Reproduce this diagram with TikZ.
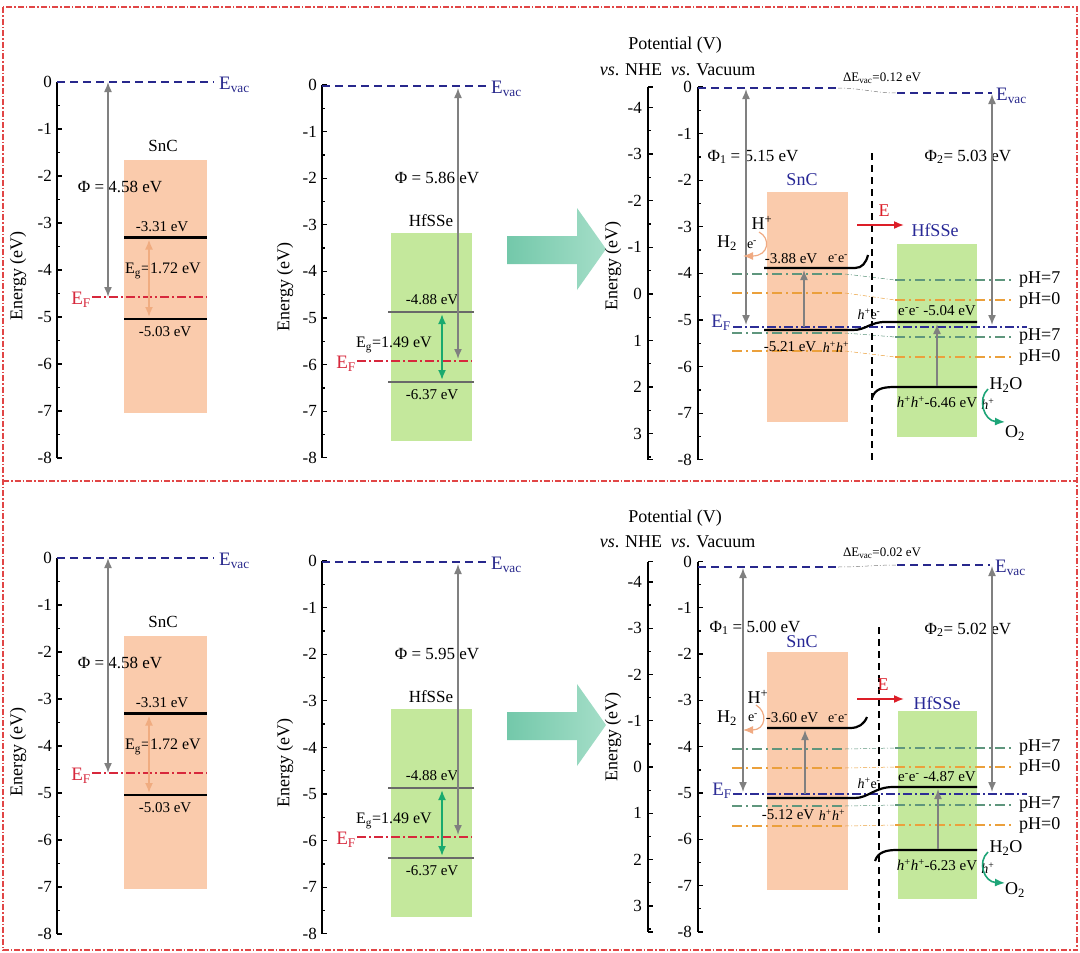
\documentclass[tikz,border=0pt]{standalone}
\usepackage{fontspec}
\setmainfont{Liberation Serif}
\usetikzlibrary{arrows.meta}
\definecolor{sncfill}{RGB}{250,203,172}
\definecolor{hffill}{RGB}{196,232,156}
\definecolor{vacblue}{RGB}{40,40,140}
\definecolor{efred}{RGB}{215,40,60}
\definecolor{arrgray}{RGB}{128,128,128}
\definecolor{eggreen}{RGB}{25,170,110}
\definecolor{egpeach}{RGB}{240,172,128}
\definecolor{phseven}{RGB}{95,150,125}
\definecolor{phzero}{RGB}{235,160,60}
\definecolor{efblue}{RGB}{45,45,150}
\definecolor{framered}{RGB}{225,70,70}
\definecolor{bigarrA}{RGB}{115,200,170}
\definecolor{bigarrB}{RGB}{165,222,200}
\definecolor{lvlgray}{RGB}{105,105,105}
\definecolor{mtblue}{RGB}{40,40,150}
\definecolor{ered}{RGB}{220,30,40}
\definecolor{harccol}{RGB}{240,170,130}
\definecolor{o2green}{RGB}{30,165,120}
\newcommand{\fsz}[1]{\fontsize{#1}{#1}\selectfont}
\newcommand{\mysub}[1]{\textsubscript{#1}}
\newcommand{\mysup}[1]{\textsuperscript{#1}}
\newcommand{\hp}{\textit{h}\textsuperscript{+}}

\newcommand{\leftpanels}[1]{%
  % ===== SnC isolated
  \fill[sncfill] (124,160) rectangle (207,413);
  \draw[axisln] (57,82) -- (57,458);
  \foreach \v in {0,...,8} {\draw[axisln] (57,{82+47*\v}) -- ++(5,0);}
  \foreach \v in {0.5,1.5,...,7.5} {\draw[axisln] (57,{82+47*\v}) -- ++(3,0);}
  \node[tl] (a0) at (52,82) {0};
  \foreach \v in {1,...,8} {\node[tl] (a\v) at (52,{82+47*\v}) {-\v};}
  \node[ylab] (ya) at (18,276) {Energy (eV)};
  \node[mat] (snc) at (163,146) {SnC};
  \coordinate (sevl) at (57,82); \coordinate (sevr) at (214,82);
  \draw[evac] (sevl) -- (sevr);
  \node[evlab,anchor=west] (sev) at (219,85) {E\mysub{vac}};
  \coordinate (sefl) at (92,297); \coordinate (sefr) at (207,297);
  \draw[efr] (sefl) -- (sefr);
  \node[eflab,anchor=east] (sef) at (91,300) {E\mysub{F}};
  \draw[level] (124,237.5) -- (207,237.5);
  \draw[level] (124,319) -- (207,319);
  \node[lv] (scbt) at (162,227) {-3.31 eV};
  \node[lv] (svbt) at (165,332) {-5.03 eV};
  \node[phil] (sphi) at (120,187) {Φ = 4.58 eV};
  \node[egl] (seg) at (163,271) {E\mysub{g}=1.72 eV};
  \coordinate (sphit) at (108,82); \coordinate (sphib) at (108,297);
  \draw[dblarr] (sphit) -- (sphib);
  \coordinate (segt) at (149,239.5); \coordinate (segb) at (149,317);
  \draw[egarr,draw=egpeach] (segt) -- (segb);
  % ===== HfSSe isolated
  \fill[hffill] (391,233) rectangle (472,441);
  \draw[axisln] (322,85) -- (322,458);
  \foreach \v in {0,...,8} {\draw[axisln] (322,{85+46.6*\v}) -- ++(5,0);}
  \foreach \v in {0.5,1.5,...,7.5} {\draw[axisln] (322,{85+46.6*\v}) -- ++(3,0);}
  \node[tl] (b0) at (317,85) {0};
  \foreach \v in {1,...,8} {\node[tl] (b\v) at (317,{85+46.6*\v}) {-\v};}
  \node[ylab] (yb) at (285,287) {Energy (eV)};
  \node[mat] (hf) at (431,221) {HfSSe};
  \coordinate (hevl) at (322,86); \coordinate (hevr) at (487,86);
  \draw[evac] (hevl) -- (hevr);
  \node[evlab,anchor=west] (hev) at (491,89) {E\mysub{vac}};
  \draw[glevel] (388,312) -- (474,312);
  \draw[glevel] (388,382) -- (474,382);
  \node[lv] (hcbt) at (432,300) {-4.88 eV};
  \node[lv] (hvbt) at (432,395) {-6.37 eV};
  \coordinate (hefl) at (357,361); \coordinate (hefr) at (472,361);
  \draw[efr] (hefl) -- (hefr);
  \node[eflab,anchor=east] (hef) at (356,364) {E\mysub{F}};
  \node[phil] (hphi) at (437,178) {Φ = #1 eV};
  \node[egl] (heg) at (394,345) {E\mysub{g}=1.49 eV};
  \coordinate (hphit) at (458,88); \coordinate (hphib) at (458,359);
  \draw[dblarr] (hphit) -- (hphib);
  \coordinate (hegt) at (442,314); \coordinate (hegb) at (442,380);
  \draw[egarr,draw=eggreen] (hegt) -- (hegb);
  % ===== big arrow
  \shade[left color=bigarrA, right color=bigarrB] (507,236) -- (577,236) -- (577,208) -- (606,249) -- (577,290) -- (577,264) -- (507,264) -- cycle;
}

\newcommand{\rightaxes}[2]{% #1 = y of vacuum 0, #2 = px per eV
  \draw[axisln] (648,#1) -- (648,{#1+8*#2});
  \draw[axisln] (648,#1) -- ++(5,0);
  \draw[axisln] (648,{#1+8*#2}) -- ++(5,0);
  \foreach \v in {-4,...,3} {\draw[axisln] (648,{#1+#2*(4.44+\v)}) -- ++(5,0);}
  \foreach \v in {-3.5,-2.5,...,3.5} {\draw[axisln] (648,{#1+#2*(4.44+\v)}) -- ++(3,0);}
  \foreach \v in {-4,...,3} {\node[tl] (n\v) at (642,{#1+#2*(4.44+\v)}) {\v};}
  \draw[axisln] (698,#1) -- (698,{#1+8*#2});
  \foreach \v in {0,...,8} {\draw[axisln] (698,{#1+#2*\v}) -- ++(5,0);}
  \foreach \v in {0.5,1.5,...,7.5} {\draw[axisln] (698,{#1+#2*\v}) -- ++(3,0);}
  \node[tl] (v0) at (692,#1) {0};
  \foreach \v in {1,...,8} {\node[tl] (v\v) at (692,{#1+#2*\v}) {-\v};}
}

\begin{document}
\begin{tikzpicture}[x=1pt,y=-1pt,
  >={Latex[length=10pt,width=8pt]},
  axisln/.style={line width=1.3pt},
  tl/.style={font=\fsz{17}, anchor=east, inner sep=0pt},
  ylab/.style={font=\fsz{18}, rotate=90, inner sep=0pt},
  mat/.style={font=\fsz{17}, inner sep=0pt},
  matb/.style={font=\fsz{18}, inner sep=0pt, text=mtblue},
  lv/.style={font=\fsz{15}, inner sep=0pt},
  egl/.style={font=\fsz{16}, inner sep=0pt},
  sm/.style={font=\fsz{14}, inner sep=0pt},
  tiny/.style={font=\fsz{13}, inner sep=0pt},
  phil/.style={font=\fsz{17}, inner sep=0pt},
  hdr/.style={font=\fsz{18}, inner sep=0pt},
  chem/.style={font=\fsz{18}, inner sep=0pt},
  evlab/.style={font=\fsz{19}, inner sep=0pt, text=vacblue},
  eflab/.style={font=\fsz{19}, inner sep=0pt, text=efred},
  efblab/.style={font=\fsz{19}, inner sep=0pt, text=efblue},
  phlab/.style={font=\fsz{18}, inner sep=0pt, anchor=west},
  evac/.style={draw=vacblue, line width=1.5pt, dash pattern=on 8pt off 5pt},
  efr/.style={draw=efred, line width=1.5pt, dash pattern=on 9pt off 3pt on 2pt off 3pt},
  efb/.style={draw=efblue, line width=1.8pt, dash pattern=on 9pt off 3pt on 2pt off 3pt},
  ph7/.style={draw=phseven, line width=1.3pt, dash pattern=on 10pt off 4pt on 2pt off 4pt},
  ph0/.style={draw=phzero, line width=1.3pt, dash pattern=on 10pt off 4pt on 2pt off 4pt},
  thinc/.style={line width=0.5pt, dash pattern=on 4pt off 2pt on 1pt off 2pt},
  level/.style={draw=black, line width=2.2pt},
  glevel/.style={draw=lvlgray, line width=2pt},
  dblarr/.style={draw=arrgray, line width=1.5pt, <->},
  uparr/.style={draw=arrgray, line width=1.5pt, ->},
  egarr/.style={line width=1.8pt, <->},
  earr/.style={draw=ered, line width=1.6pt, ->},
  iface/.style={line width=1.3pt, dash pattern=on 7pt off 5pt},
  harc/.style={draw=harccol, line width=1.2pt, ->},
  garc/.style={draw=o2green, line width=1.6pt, ->},
  frame/.style={draw=framered, line width=1.1pt, dash pattern=on 6pt off 2pt on 1.5pt off 2pt}
]
\useasboundingbox (0,0) rectangle (1080,953);
\fill[white] (0,0) rectangle (1080,953);
\draw[frame] (3,7) rectangle (1077,950);
\draw[frame] (3,481) -- (1077,481);

\begin{scope}[name prefix=tl-]
  \leftpanels{5.86}
\end{scope}
\begin{scope}[name prefix=bl-, shift={(0,476)}]
  \leftpanels{5.95}
\end{scope}

% ================= right top =================
\begin{scope}[name prefix=rt-]
  \fill[sncfill] (767,192) rectangle (848,422);
  \fill[hffill] (897,244) rectangle (977,437);
  \rightaxes{87}{46.6}
  \node[hdr] (pot) at (675,45) {Potential (V)};
  \node[hdr] (vsn) at (631,70) {\textit{vs}. NHE};
  \node[hdr] (vsv) at (713,70) {\textit{vs}. Vacuum};
  \node[ylab] (ylab) at (613,266) {Energy (eV)};
  % pH lines
  \draw[ph7] (732,274) -- (845,274); \draw[ph7,thinc] (845,274) -- (895,280); \draw[ph7] (895,280) -- (1013,280);
  \draw[ph0] (732,293) -- (845,293); \draw[ph0,thinc] (845,293) -- (895,300); \draw[ph0] (895,300) -- (1013,300);
  \draw[ph7] (732,333) -- (845,333); \draw[ph7,thinc] (845,333) -- (895,337); \draw[ph7] (895,337) -- (1013,337);
  \draw[ph0] (732,351) -- (845,351); \draw[ph0,thinc] (845,351) -- (895,357); \draw[ph0] (895,357) -- (1013,357);
  \node[phlab] (p7a) at (1019,280) {pH=7};
  \node[phlab] (p0a) at (1019,300) {pH=0};
  \node[phlab] (p7b) at (1019,337) {pH=7};
  \node[phlab] (p0b) at (1019,357) {pH=0};
  % vacuum levels
  \draw[evac] (698,88) -- (838,88);
  \draw[draw=arrgray,thinc] (838,88) .. controls (860,88) and (875,93) .. (897,93);
  \draw[evac] (897,93) -- (992,93);
  \node[evlab,anchor=west] (evr) at (996,96) {E\mysub{vac}};
  \node[tiny] (dev) at (882,78) {ΔE\mysub{vac}=0.12 eV};
  % interface and field
  \draw[iface] (872,153) -- (872,462);
  \node[font=\fsz{18}, text=ered, inner sep=0pt] (elab) at (884,211) {E};
  \coordinate (ea) at (857,225); \coordinate (eb) at (904,225);
  \draw[earr] (ea) -- (eb);
  \node[matb] (snc) at (802,180) {SnC};
  \node[matb] (hf) at (935,230) {HfSSe};
  % Fermi level
  \draw[efb] (733,327) -- (1027,327);
  \node[efblab] (ef) at (721,323) {E\mysub{F}};
  % bands
  \draw[level] (764,268) -- (855,268) .. controls (862,268) and (866,263) .. (868,255);
  \draw[level] (764,330) -- (853,330) .. controls (866,330) and (870,322) .. (885,322) -- (977,322);
  \draw[level] (872,398) .. controls (875,389) and (882,387) .. (895,387) -- (977,387);
  \node[lv] (cb1) at (791,259) {-3.88 eV};
  \node[sm] (ee1) at (838,259) {e\mysup{-}e\mysup{-}};
  \node[lv] (vb1) at (790,347) {-5.21 eV};
  \node[sm] (hh1) at (836,347) {\hp\hp};
  \node[sm] (he) at (869,314) {\hp e\mysup{-}};
  \node[lv] (cb2) at (937,311) {e\mysup{-}e\mysup{-} -5.04 eV};
  \node[lv] (vb2) at (937,402) {\hp\hp-6.46 eV};
  % work functions
  \node[phil] (phi1) at (753,157) {Φ\mysub{1} = 5.15 eV};
  \node[phil] (phi2) at (968,157) {Φ\mysub{2}= 5.03 eV};
  \coordinate (p1t) at (746,89); \coordinate (p1b) at (746,325);
  \draw[dblarr] (p1t) -- (p1b);
  \coordinate (p2t) at (992,94); \coordinate (p2b) at (992,325);
  \draw[dblarr] (p2t) -- (p2b);
  \coordinate (x1b) at (804,327); \coordinate (x1t) at (804,270);
  \draw[uparr] (x1b) -- (x1t);
  \coordinate (x2b) at (937,386); \coordinate (x2t) at (937,324);
  \draw[uparr] (x2b) -- (x2t);
  % reactions
  \node[chem] (hplus) at (762,223) {H\mysup{+}};
  \node[chem] (h2) at (727,243) {H\mysub{2}};
  \node[sm] (elec) at (752,245) {e\mysup{-}};
  \coordinate (hs) at (759,232); \coordinate (hend) at (743,256);
  \draw[harc] (hs) .. controls (771,238) and (769,256) .. (hend);
  \node[chem] (h2o) at (1006,385) {H\mysub{2}O};
  \node[sm] (hq) at (988,404) {\hp};
  \node[chem] (o2) at (1015,433) {O\mysub{2}};
  \coordinate (gs) at (988,389); \coordinate (gend) at (1005,422);
  \draw[garc] (gs) .. controls (977,399) and (984,421) .. (gend);
\end{scope}

% ================= right bottom =================
\begin{scope}[name prefix=rb-]
  \fill[sncfill] (767,652) rectangle (848,890);
  \fill[hffill] (898,711) rectangle (977,899);
  \rightaxes{561.5}{46.3}
  \node[hdr] (pot) at (675,518) {Potential (V)};
  \node[hdr] (vsn) at (631,542) {\textit{vs}. NHE};
  \node[hdr] (vsv) at (713,542) {\textit{vs}. Vacuum};
  \node[ylab] (ylab) at (613,737) {Energy (eV)};
  % pH lines
  \draw[ph7] (732,749) -- (845,749); \draw[ph7,thinc] (845,749) -- (895,748); \draw[ph7] (895,748) -- (1013,748);
  \draw[ph0] (732,768) -- (845,768); \draw[ph0,thinc] (845,768) -- (895,767); \draw[ph0] (895,767) -- (1013,767);
  \draw[ph7] (732,806) -- (845,806); \draw[ph7,thinc] (845,806) -- (895,805); \draw[ph7] (895,805) -- (1013,805);
  \draw[ph0] (732,826) -- (845,826); \draw[ph0,thinc] (845,826) -- (895,825); \draw[ph0] (895,825) -- (1013,825);
  \node[phlab] (p7a) at (1019,748) {pH=7};
  \node[phlab] (p0a) at (1019,767) {pH=0};
  \node[phlab] (p7b) at (1019,805) {pH=7};
  \node[phlab] (p0b) at (1019,825) {pH=0};
  % vacuum levels
  \draw[evac] (698,567) -- (838,567);
  \draw[draw=arrgray,thinc] (838,567) .. controls (860,567) and (875,565) .. (897,565);
  \draw[evac] (897,565) -- (990,565);
  \node[evlab,anchor=west] (evr) at (995,568) {E\mysub{vac}};
  \node[tiny] (dev) at (882,553) {ΔE\mysub{vac}=0.02 eV};
  % interface and field
  \draw[iface] (879,627) -- (879,933);
  \node[font=\fsz{18}, text=ered, inner sep=0pt] (elab) at (883,685) {E};
  \coordinate (ea) at (857,699); \coordinate (eb) at (904,699);
  \draw[earr] (ea) -- (eb);
  \node[matb] (snc) at (802,642) {SnC};
  \node[matb] (hf) at (937,703) {HfSSe};
  % Fermi level
  \draw[efb] (733,794) -- (1027,794);
  \node[efblab] (ef) at (722,791) {E\mysub{F}};
  % bands
  \draw[level] (767,728) -- (850,728) .. controls (859,728) and (864,724) .. (867,717);
  \draw[level] (767,798) -- (855,798) .. controls (868,798) and (875,787) .. (893,787) -- (977,787);
  \draw[level] (875,861) .. controls (878,852) and (886,850) .. (897,850) -- (977,850);
  \node[lv] (cb1) at (792,718) {-3.60 eV};
  \node[sm] (ee1) at (838,719) {e\mysup{-}e\mysup{-}};
  \node[lv] (vb1) at (788,815) {-5.12 eV};
  \node[sm] (hh1) at (832,815) {\hp\hp};
  \node[sm] (he) at (869,783) {\hp e\mysup{-}};
  \node[lv] (cb2) at (937,777) {e\mysup{-}e\mysup{-} -4.87 eV};
  \node[lv] (vb2) at (937,865) {\hp\hp-6.23 eV};
  % work functions
  \node[phil] (phi1) at (755,628) {Φ\mysub{1} = 5.00 eV};
  \node[phil] (phi2) at (968,630) {Φ\mysub{2}= 5.02 eV};
  \coordinate (p1t) at (743,568); \coordinate (p1b) at (743,792);
  \draw[dblarr] (p1t) -- (p1b);
  \coordinate (p2t) at (992,566); \coordinate (p2b) at (992,792);
  \draw[dblarr] (p2t) -- (p2b);
  \coordinate (x1b) at (805,794); \coordinate (x1t) at (805,730);
  \draw[uparr] (x1b) -- (x1t);
  \coordinate (x2b) at (938,849); \coordinate (x2t) at (938,789);
  \draw[uparr] (x2b) -- (x2t);
  % reactions
  \node[chem] (hplus) at (758,697) {H\mysup{+}};
  \node[chem] (h2) at (727,718) {H\mysub{2}};
  \node[sm] (elec) at (753,718) {e\mysup{-}};
  \coordinate (hs) at (756,705); \coordinate (hend) at (743,730);
  \draw[harc] (hs) .. controls (768,712) and (766,730) .. (hend);
  \node[chem] (h2o) at (1006,848) {H\mysub{2}O};
  \node[sm] (hq) at (988,868) {\hp};
  \node[chem] (o2) at (1015,890) {O\mysub{2}};
  \coordinate (gs) at (988,852); \coordinate (gend) at (1005,883);
  \draw[garc] (gs) .. controls (977,862) and (984,882) .. (gend);
\end{scope}
\end{tikzpicture}
\end{document}
